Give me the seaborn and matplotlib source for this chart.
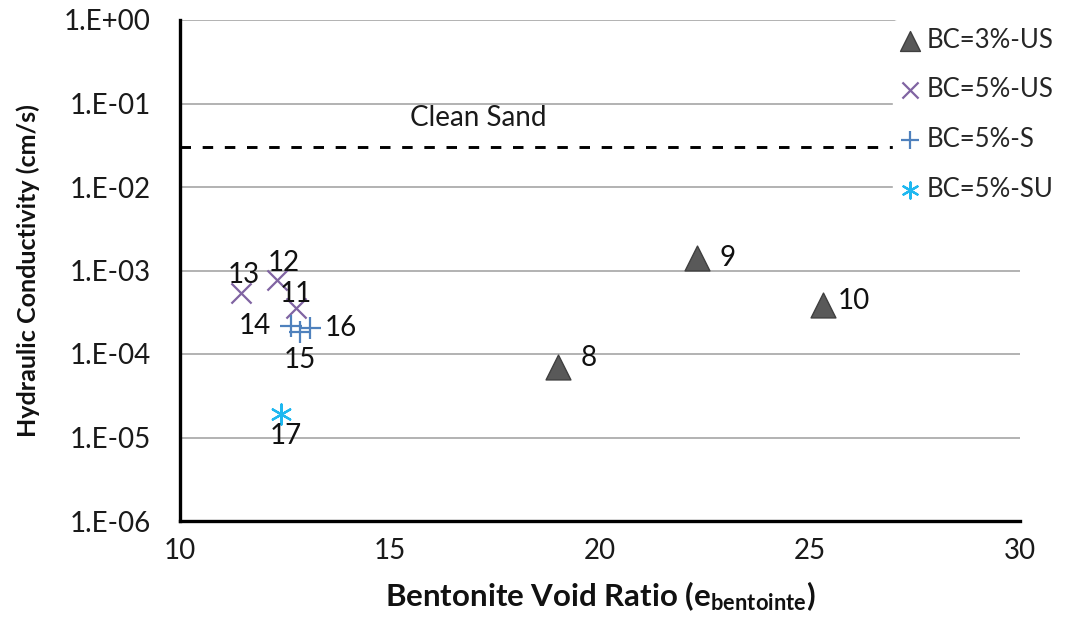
import numpy as np
import pandas as pd
import matplotlib
matplotlib.use("Agg")
import matplotlib.pyplot as plt
import seaborn as sns

# ---- data ----
bc3_us_e = [19.0, 22.3, 25.3]
bc3_us_k = [7.0e-5, 1.4e-3, 3.9e-4]
bc3_us_id = ["8", "9", "10"]

bc5_us_e = [12.75, 12.3, 11.45]
bc5_us_k = [3.6e-4, 7.7e-4, 5.4e-4]
bc5_us_id = ["11", "12", "13"]

bc5_s_e = [12.65, 12.85, 13.1]
bc5_s_k = [2.15e-4, 1.85e-4, 2.05e-4]
bc5_s_id = ["14", "15", "16"]

bc5_su_e = [12.4]
bc5_su_k = [1.9e-5]
bc5_su_id = ["17"]

clean_sand_k = 0.030
series_names = ["BC=3%-US", "BC=5%-US", "BC=5%-S", "BC=5%-SU"]
y_ticklabels = ["1.E-06", "1.E-05", "1.E-04", "1.E-03", "1.E-02", "1.E-01", "1.E+00"]

# ---- styling ----
sns.set_theme(style="white")
plt.rcParams['font.family'] = ['Lato', 'DejaVu Sans']
plt.rcParams['mathtext.fontset'] = 'custom'
plt.rcParams['mathtext.rm'] = 'Lato'
plt.rcParams['mathtext.bf'] = 'Lato:bold'
plt.rcParams['mathtext.it'] = 'Lato:italic'

fig = plt.figure(figsize=(10.65, 6.29), dpi=100)
ax = fig.add_axes([180/1065, 1-521/629, (1020-180)/1065, (521-20)/629])

frames = []
for name, e, k, ids in [(series_names[0], bc3_us_e, bc3_us_k, bc3_us_id),
                        (series_names[1], bc5_us_e, bc5_us_k, bc5_us_id),
                        (series_names[2], bc5_s_e, bc5_s_k, bc5_s_id),
                        (series_names[3], bc5_su_e, bc5_su_k, bc5_su_id)]:
    frames.append(pd.DataFrame({"e": e, "k": k, "id": ids, "series": name}))
df = pd.concat(frames, ignore_index=True)

styles = {
    "BC=3%-US": dict(marker="^", color="#595959", edgecolor="#3f3f3f", s=320, linewidth=1),
    "BC=5%-US": dict(marker="x", color="#8064A2", s=210, linewidth=1.6),
    "BC=5%-S": dict(marker="+", color="#4F81BD", s=250, linewidth=1.6),
    "BC=5%-SU": dict(marker=(6, 2, 0), color="#1FB8F0", s=210, linewidth=1.6),
}
for name in series_names:
    sub = df[df["series"] == name]
    sns.scatterplot(data=sub, x="e", y="k", ax=ax, label=name, zorder=4, **styles[name])

# dashed clean sand line
ax.axhline(clean_sand_k, color="black", linestyle=(0, (3.6, 4.0)), linewidth=2.1, zorder=3)
ax.annotate("Clean Sand", (17.1, clean_sand_k), xytext=(0, 29), textcoords="offset pixels",
            fontsize=20, ha="center", va="center", color="#1a1a1a")

# point labels (offsets in pixels)
offsets = {"8": (31, 9), "9": (31, 0), "10": (31, 4), "11": (0, 14), "12": (7, 17),
           "13": (3, 18), "14": (-36, 0), "15": (0, -28), "16": (31, 0), "17": (5, -22)}
for _, r in df.iterrows():
    dx, dy = offsets[r["id"]]
    ax.annotate(r["id"], (r["e"], r["k"]), xytext=(dx, dy), textcoords="offset pixels",
                ha="center", va="center", fontsize=20, color="#111111", zorder=5)

ax.set_yscale("log")
ax.set_xlim(10, 30)
ax.set_ylim(1e-6, 1)
ax.set_xticks([10, 15, 20, 25, 30])
ax.set_yticks([1e-6, 1e-5, 1e-4, 1e-3, 1e-2, 1e-1, 1])
ax.set_yticklabels(y_ticklabels)
ax.minorticks_off()
ax.yaxis.grid(True, color="#A6A6A6", linewidth=1.2)
ax.xaxis.grid(False)
for s in ["top", "right"]:
    ax.spines[s].set_visible(False)
for s in ["left", "bottom"]:
    ax.spines[s].set_color("black")
    ax.spines[s].set_linewidth(2.4)
ax.tick_params(axis="both", direction="in", length=7, width=2.2, color="black",
               labelsize=20, labelcolor="#1a1a1a")
ax.tick_params(axis="x", pad=12)
ax.tick_params(axis="y", pad=21)

ax.set_xlabel(r"Bentonite Void Ratio (e$_{\mathbf{bentointe}}$)", fontsize=22.5,
              fontweight="bold", labelpad=11, color="#111111")
ax.set_ylabel("Hydraulic Conductivity (cm/s)", fontsize=18, fontweight="bold",
              labelpad=17, color="#111111")

if ax.legend_:
    ax.legend_.remove()
handles, labels = ax.get_legend_handles_labels()
leg = fig.legend(handles, labels, loc="upper left", bbox_to_anchor=(880/1065, 1-7/629),
                 frameon=True, facecolor="white", edgecolor="white", framealpha=1,
                 fontsize=18.5, labelspacing=0.96, handletextpad=0.25, handlelength=0.75,
                 borderpad=0.3, markerscale=0.8)
leg.set_zorder(10)

fig.savefig("out.png", dpi=100)
